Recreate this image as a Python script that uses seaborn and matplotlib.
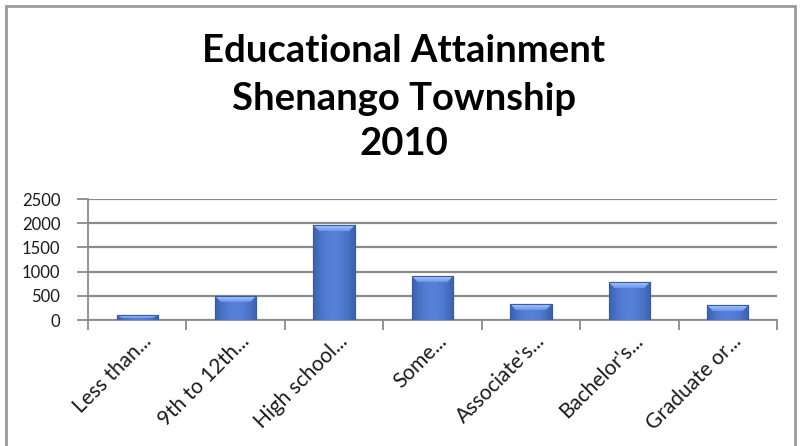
import matplotlib
matplotlib.use("Agg")
import matplotlib.pyplot as plt
import matplotlib.patches as mpatches
import matplotlib.transforms as mtransforms
import numpy as np
import pandas as pd
import seaborn as sns

# Educational attainment counts, Shenango Township, 2010
categories = ["Less than...", "9th to 12th...", "High school...", "Some...",
              "Associate's...", "Bachelor's...", "Graduate or..."]
persons = [100, 500, 1960, 910, 330, 785, 310]
y_ticks = [0, 500, 1000, 1500, 2000, 2500]
title_lines = ["Educational Attainment", "Shenango Township", "2010"]

df = pd.DataFrame({"category": categories, "persons": persons})

sns.set_theme(style="white")
plt.rcParams["font.family"] = ["Lato", "DejaVu Sans"]

fig = plt.figure(figsize=(8.03, 4.46), dpi=100)
ax = fig.add_axes([0.1096, 0.2825, 0.858, 0.2713])

sns.barplot(data=df, x="category", y="persons", color="#4a76cf",
            width=0.42, edgecolor="#36599f", linewidth=0.8, ax=ax,
            saturation=1, zorder=3)

ax.set_xlim(-0.5, len(categories) - 0.5)
ax.set_ylim(0, 2500)

# shaded fill for each bar: darker sides, lighter centre, light bevel on top
shade = np.array([0.0, 0.4, 0.65, 0.8, 0.85, 0.8, 0.65, 0.4, 0.0])
base_dark = np.array([0.24, 0.39, 0.70])
base_light = np.array([0.36, 0.53, 0.88])
grad = base_dark[None, :] + shade[:, None] * (base_light - base_dark)[None, :]
px_per_unit = ax.get_window_extent().height / 2500.0
bevel_top = np.array([0.66, 0.78, 0.98])
bevel_bot = np.array([0.42, 0.60, 0.93])
bevel = np.linspace(bevel_top, bevel_bot, 8)[:, None, :]
for patch in list(ax.patches):
    x0, y0 = patch.get_x(), patch.get_y()
    w, h = patch.get_width(), patch.get_height()
    im = ax.imshow(grad[None, :, :], extent=[x0, x0 + w, y0, y0 + h],
                   aspect="auto", zorder=3.5, interpolation="bicubic")
    im.set_clip_path(patch)
    bh = min(h * 0.6, 6.0 / px_per_unit)
    bev = mpatches.Polygon([(x0, y0 + h), (x0 + w, y0 + h),
                            (x0 + w * 0.86, y0 + h - bh), (x0 + w * 0.14, y0 + h - bh)],
                           closed=True, facecolor="none", edgecolor="none")
    ax.add_patch(bev)
    imb = ax.imshow(bevel, extent=[x0, x0 + w, y0 + h - bh, y0 + h],
                    aspect="auto", zorder=3.6, interpolation="bicubic")
    imb.set_clip_path(bev)
    ax.add_patch(mpatches.Rectangle((x0, y0), w, h, fill=False,
                                    edgecolor="#3a5c9e", linewidth=0.8, zorder=3.7))

ax.set_xlim(-0.5, len(categories) - 0.5)
ax.set_ylim(0, 2500)
ax.set_yticks(y_ticks)
ax.set_yticklabels([str(v) for v in y_ticks], fontsize=12, color="#1a1a1a")
ax.yaxis.grid(True, color="#8a8a8a", linewidth=1.6, zorder=0)
ax.set_axisbelow(True)

# category separators as major x ticks, names on minor ticks
ax.set_xticks(np.arange(-0.5, len(categories), 1.0), minor=False)
ax.set_xticklabels([])
ax.set_xticks(np.arange(len(categories)), minor=True)
ax.set_xticklabels(categories, minor=True, rotation=45, ha="right",
                   va="baseline", rotation_mode="anchor", fontsize=15,
                   color="#1a1a1a")
ax.tick_params(axis="x", which="major", direction="out", length=7,
               width=1.3, color="#8a8a8a", bottom=True)
ax.tick_params(axis="x", which="minor", length=0, pad=16)
shift = mtransforms.ScaledTranslation(0.15, 0, fig.dpi_scale_trans)
for lab in ax.get_xticklabels(minor=True):
    lab.set_transform(lab.get_transform() + shift)
ax.tick_params(axis="y", direction="out", length=8, width=1.3,
               color="#8a8a8a", left=True, pad=12)

for side in ["top", "right"]:
    ax.spines[side].set_visible(False)
for side in ["left", "bottom"]:
    ax.spines[side].set_color("#8a8a8a")
    ax.spines[side].set_linewidth(1.3)
ax.set_xlabel("")
ax.set_ylabel("")

# three-line title, baselines placed in pixels from the top
for line, base_px in zip(title_lines, [62, 110, 155]):
    fig.text(0.503, 1 - base_px / 446, line, ha="center", va="baseline",
             fontsize=27.5, fontweight="bold", color="black")

# chart frame
frame = mpatches.Rectangle((6 / 803, -0.05), 789 / 803, 1.05 - 6 / 446,
                           transform=fig.transFigure, fill=False,
                           edgecolor="#9a9a9a", linewidth=2.0)
fig.patches.append(frame)

fig.savefig("out.png", dpi=100, facecolor="white")
